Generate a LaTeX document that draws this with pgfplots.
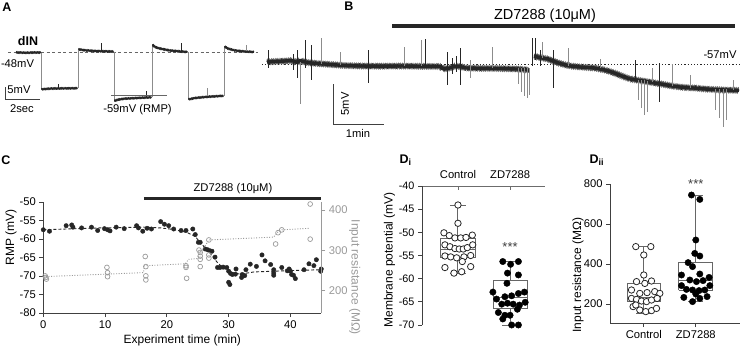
\documentclass[border=0pt]{standalone}
\usepackage{fontspec}
\setmainfont{Liberation Sans}
\usepackage{pgfplots}
\pgfplotsset{compat=1.18}
\usetikzlibrary{decorations.pathmorphing}
\newcommand{\fs}{\fontsize{11.2bp}{13bp}\selectfont}
\newcommand{\fl}{\fontsize{12bp}{14bp}\selectfont}
\newcommand{\fb}{\fontsize{12.5bp}{14bp}\selectfont\bfseries}
\definecolor{axc}{HTML}{404040}
\definecolor{trc}{HTML}{262626}
\definecolor{spg}{HTML}{8C8C8C}
\definecolor{rgray}{HTML}{9A9A9A}
\definecolor{boxc}{HTML}{666666}
\pgfplotsset{
  myax/.style={scale only axis, clip=false, font=\fs,
    tick label style={font=\fs}, label style={font=\fl},
    /pgf/number format/assume math mode=true,
    axis line style={draw=axc, line width=0.9bp},
    tick style={draw=axc, line width=0.9bp},
    major tick length=4bp, tick align=outside, unbounded coords=jump},
  trA/.style={draw=trc, line width=1.7bp, line join=round,
    preaction={draw=trc, line width=0.45bp, decorate,
      decoration={zigzag, segment length=1.4bp, amplitude=1.3bp}},
    preaction={draw=trc, line width=0.4bp, decorate,
      decoration={zigzag, segment length=2.3bp, amplitude=1.0bp}}},
  trB/.style={draw=trc, line width=3.4bp, line join=round,
    preaction={draw=trc, line width=0.6bp, decorate,
      decoration={zigzag, segment length=1.3bp, amplitude=2.7bp}},
    preaction={draw=black!60, line width=0.45bp, decorate,
      decoration={zigzag, segment length=2.1bp, amplitude=3.4bp}}},
}
\begin{document}
\begin{tikzpicture}
% ---------------- overview (panels A and B), pixel units ----------------
\begin{axis}[at={(0,0)}, anchor=north west, width=740bp, height=351bp,
  scale only axis, hide axis, clip=false, font=\fs,
  xmin=0, xmax=740, ymin=0, ymax=351, y dir=reverse, unbounded coords=jump]
% A dashed baseline
\addplot[draw=gray!80!black, line width=0.8bp, dash pattern=on 3bp off 2.5bp] coordinates {(8,52.7) (258,52.7)};
% A step transitions
\addplot[draw=spg, line width=0.6bp] coordinates {(41,52.5)(41,89.5)(41,nan)(78,88.2)(78,49.2)(78,nan)(114,51.5)(114,101.5)(114,nan)(152,97.3)(152,43.5)(152,nan)(188,52)(188,100)(188,nan)(224,95.8)(224,45.5)};
% A trace segments
\addplot[trA] coordinates {(16,52.4)(26,52.8)(34,52.5)(41,52.6)};
\addplot[trA] coordinates {(41.5,89.3)(50,88.6)(60,88.4)(70,88.3)(77.5,88.2)};
\addplot[trA] coordinates {(78.5,49.3)(85,50.3)(95,51.0)(105,51.3)(113.5,51.5)};
\addplot[trA] coordinates {(114.5,101)(118,99.6)(125,98.6)(135,98.1)(145,97.6)(151.5,97.3)};
\addplot[trA] coordinates {(152.5,44.8)(155,47)(160,48.6)(170,50.5)(180,51.4)(187.5,52)};
\addplot[trA] coordinates {(188.5,99.4)(195,98)(205,97)(215,96.3)(223.5,95.8)};
\addplot[trA] coordinates {(224.5,46.6)(228,48.6)(235,50.5)(245,51.5)(254,52)};
% A small spikes
\addplot[draw=trc, line width=0.6bp] coordinates {(101,51)(101,43)(101,nan)(181,51)(181,43)(181,nan)(146,97)(146,91)(146,nan)(58,88)(58,84)};
\addplot[draw=spg, line width=0.6bp] coordinates {(207,96)(207,87.5)(207,nan)(246,51)(246,45)};
% A annotations
\addplot[draw=gray!80!black, line width=1.5bp] coordinates {(111,95.7)(166.7,95.7)};
\addplot[draw=axc, line width=0.9bp] coordinates {(5.3,87.3)(5.3,99.5)(40,99.5)};
\node[font=\fb] at (axis cs:7,7) {A};
\node[font=\fb] at (axis cs:28,41.5) {dIN};
\node at (axis cs:17.5,63.5) {-48mV};
\node at (axis cs:19,90) {5mV};
\node at (axis cs:22,109) {2sec};
\node at (axis cs:137.5,109.5) {-59mV (RMP)};
% ---------------- B ----------------
\addplot[draw=trc, line width=0.8bp, dash pattern=on 1.2bp off 2bp] coordinates {(262,64.3)(740,64.3)};
\addplot[trB] coordinates {(267,62)(275,61.5)(285,61)(292,60.5)(297,62.5)(300,60.5)(305,62)(311,63)(318,63.5)(330,64.5)(345,65.5)(360,66)(380,66.2)(400,66)(420,66.3)(441,66.5)(443,69)(450,68)(455,66)(460,66.5)(466,68)(480,68.3)(500,68.5)(517,69)(529,70)};
\addplot[trB] coordinates {(534,56)(537,57)(542,58)(548,59)(553,61)(560,63.5)(570,66)(580,67)(595,68)(605,70)(613,72.5)(622,76)(630,79)(640,80.5)(648,81.8)(658,83.5)(667,85)(675,86.5)(685,87.5)(697,88.2)(705,89)(713,89.5)(725,90)(739,90.5)};
% B spikes, dark
\addplot[draw=trc, line width=0.8bp] coordinates {(268,50)(268,68)(268,nan)(293,54)(293,70)(293,nan)(297,50)(297,78)(297,nan)(305,40)(305,68)(305,nan)(311,45)(311,80)(311,nan)(368,50)(368,83)(368,nan)(425,39)(425,68)(425,nan)(447,52)(447,85)(447,nan)(452,58)(452,74)(452,nan)(456,56)(456,72)(456,nan)(460,48)(460,85)(460,nan)(532,38)(532,66)(532,nan)(535,38)(535,60)(535,nan)(540,50)(540,66)(540,nan)(553,50)(553,88)(553,nan)(635,60)(635,80)(635,nan)(659,63)(659,102)};
% B spikes, grey
\addplot[draw=spg, line width=0.6bp] coordinates {(300,62)(300,104)(300,nan)(321,38)(321,64)(321,nan)(340,52)(340,65)(340,nan)(404,47)(404,66)(404,nan)(421.7,40)(421.7,66)(421.7,nan)(470,60)(470,78)(470,nan)(492,47)(492,68)(492,nan)(518,68)(518,84)(518,nan)(521,68)(521,92)(521,nan)(524,68)(524,96)(524,nan)(527,68)(527,98)(527,nan)(529,68)(529,95)(529,nan)(542,42)(542,58)(542,nan)(568,48)(568,66)(568,nan)(600,59)(600,68)(600,nan)(638,80)(638,100)(638,nan)(641,80)(641,108)(641,nan)(644,80)(644,115)(644,nan)(647,81)(647,112)(647,nan)(652,68)(652,82)(652,nan)(672,64)(672,86)(672,nan)(690,75)(690,88)(690,nan)(715,89)(715,110)(715,nan)(719,89)(719,118)(719,nan)(723,89)(723,127)(723,nan)(726,89)(726,120)(726,nan)(733,80)(733,90)};
% B annotations
\addplot[draw=trc, line width=4bp] coordinates {(392,26)(735,26)};
\addplot[draw=axc, line width=0.9bp] coordinates {(333,84)(333,124)(384,124)};
\node[font=\fb] at (axis cs:349,6) {B};
\node[font=\fontsize{14.5bp}{16bp}\selectfont] at (axis cs:545,15.5) {ZD7288 (10μM)};
\node at (axis cs:720,55) {-57mV};
\node[rotate=90] at (axis cs:345,104) {5mV};
\node at (axis cs:358,133.5) {1min};
% panel labels lower row
\node[font=\fb] at (axis cs:6,160) {C};
\node[font=\fb, anchor=west] at (axis cs:396,160) {D\raisebox{-2bp}{\fontsize{9bp}{9bp}\selectfont i}};
\node[font=\fb, anchor=west] at (axis cs:586,160) {D\raisebox{-2bp}{\fontsize{9bp}{9bp}\selectfont ii}};
\end{axis}
% ---------------- C: RMP ----------------
\begin{axis}[myax, at={(43.3bp,-313bp)}, anchor=south west, width=278bp, height=111bp,
  xmin=0, xmax=45, ymin=-80, ymax=-50, axis x line*=bottom, axis y line*=left,
  xtick={0,10,20,30,40}, ytick={-80,-75,-70,-65,-60,-55,-50},
  xlabel={Experiment time (min)}]
\addplot[draw=trc, line width=0.9bp, dash pattern=on 3bp off 2bp] coordinates {(0,-57.5)(9.2,-57.0)(16.2,-56.8)(19,-57.0)(21,-57.4)(23.2,-58.2)(24.6,-59.3)(25.4,-61.0)(26.9,-63.6)(28.1,-66.2)(29.1,-67.8)(30.3,-69.0)(31.9,-69.5)(34.1,-68.9)(38.9,-68.6)(44.9,-68.3)};
\addplot[only marks, mark=*, mark size=2.2bp, mark options={fill=trc, draw=trc}] coordinates {(0,-57.5)(1.0,-57.9)(3.7,-56.4)(4.6,-56.2)(4.8,-56.8)(6.2,-57.0)(7.8,-56.8)(8.8,-57.7)(9.9,-57.2)(10.4,-57.5)(10.8,-57.8)(11.8,-56.8)(13.1,-57.2)(15.1,-56.4)(15.4,-57.0)(16.1,-57.9)(16.8,-57.1)(17.5,-57.3)(19.0,-55.3)(19.6,-56.0)(20.3,-56.4)(21.1,-57.3)(22.3,-57.7)(23.1,-57.7)(24.2,-57.3)(24.6,-58.8)(25.1,-60.9)(25.4,-60.9)(26.2,-62.7)(26.6,-62.9)(27.0,-63.2)(27.3,-63.3)(27.8,-64.9)(28.2,-67.7)(28.6,-67.7)(29.1,-67.6)(29.7,-67.7)(30.0,-68.7)(30.0,-71.7)(30.2,-72.3)(30.3,-69.3)(30.6,-69.6)(31.1,-69.5)(31.2,-68.1)(32.1,-70.4)(32.2,-69.6)(32.6,-69.9)(32.8,-68.3)(33.5,-66.8)(34.5,-67.4)(35.4,-64.3)(35.9,-65.9)(36.8,-66.9)(37.3,-68.3)(37.3,-69.2)(37.3,-69.8)(38.6,-67.7)(39.5,-68.6)(39.8,-68.1)(40.0,-68.7)(40.2,-69.6)(40.5,-69.8)(40.8,-70.7)(42.2,-68.3)(43.0,-66.7)(43.8,-67.2)(44.2,-65.6)(44.9,-68.7)(45.0,-68.1)};
\addplot[draw=trc, line width=3.3bp] coordinates {(16.3,-49.0)(45,-49.0)};
\node at (axis cs:30.7,-46.3) {ZD7288 (10μM)};
\node[rotate=90, font=\fl] at (rel axis cs:-0.116,0.68) {RMP (mV)};
\end{axis}
% ---------------- C: input resistance ----------------
\begin{axis}[myax, at={(43.3bp,-313bp)}, anchor=south west, width=278bp, height=111bp,
  xmin=0, xmax=45, ymin=145, ymax=420, axis x line=none, axis y line*=right,
  ytick={200,300,400}, y axis line style={draw=rgray}, ytick style={draw=rgray},
  yticklabel style={text=rgray}]
\addplot[draw=rgray, line width=0.9bp, dash pattern=on 1bp off 1.6bp] coordinates {(0,235)(16.2,245)(16.4,262)(23,267)(23.5,278)(24.9,280)(25.4,293)(26.8,326)(37.3,333)(37.8,344)(38.6,351)(43.2,355)};
\addplot[only marks, mark=o, mark size=2.4bp, mark options={draw=rgray, line width=0.7bp}] coordinates {(0.3,237)(0.4,233)(0.5,229)(10.3,258)(10.4,245)(10.4,235)(16.5,285)(16.6,260)(16.6,237)(16.6,227)(23.1,262)(23.1,258)(23.2,231)(25.2,301)(25.4,295)(25.4,286)(25.4,278)(25.4,260)(26.8,326)(26.8,289)(26.8,281)(37.6,316)(38.0,344)(38.6,351)(43.2,415)(43.2,328)};
\node[rotate=-90, font=\fl, text=rgray] at (rel axis cs:1.12,0.32) {Input resistance (MΩ)};
\end{axis}
% ---------------- Di ----------------
\begin{axis}[myax, at={(422bp,-325bp)}, anchor=south west, width=123bp, height=139bp,
  xmin=0.31, xmax=2.67, ymin=-70, ymax=-40, axis x line*=top, axis y line*=left,
  xtick={1,2}, xticklabels={Control,ZD7288}, xtick style={draw=none},
  ytick={-70,-65,-60,-55,-50,-45,-40}, x axis line style={draw=gray!85!black},
  yticklabel style={font=\fontsize{10.8bp}{12bp}\selectfont}]
\addplot[draw=gray!85!black, line width=0.9bp] coordinates {(1,-40)(1,-40.9)(1,nan)(2,-40)(2,-40.9)};
% boxes: whisker, quartiles, median (Control, then ZD7288)
\addplot[draw=boxc, line width=1bp] coordinates {(0.673,-55.5)(1.327,-55.5)(1.327,-51.3)(0.673,-51.3)(0.673,-55.5)(0.673,nan)(0.673,-53.6)(1.327,-53.6)(1.327,nan)(1,-51.3)(1,-44.1)(1,nan)(0.845,-44.1)(1.155,-44.1)(1.155,nan)(1,-55.5)(1,-58.8)(1,nan)(0.845,-58.8)(1.155,-58.8)};
\addplot[draw=boxc, line width=1bp] coordinates {(1.673,-66.4)(2.327,-66.4)(2.327,-60.3)(1.673,-60.3)(1.673,-66.4)(1.673,nan)(1.673,-64.1)(2.327,-64.1)(2.327,nan)(2,-60.3)(2,-56.3)(2,nan)(1.845,-56.3)(2.155,-56.3)(2.155,nan)(2,-66.4)(2,-70.0)(2,nan)(1.845,-70.0)(2.155,-70.0)};
\addplot[only marks, mark=*, mark size=3.2bp, mark options={fill=white, draw=trc, line width=0.8bp}] coordinates {(1.0,-44.1)(1.0,-48.05)(0.731,-50.1)(0.833,-50.7)(0.942,-51.2)(1.052,-51.2)(1.154,-51.1)(1.275,-50.6)(0.75,-52.7)(0.846,-53.1)(0.942,-53.5)(1.025,-53.6)(1.102,-53.6)(1.179,-53.3)(1.283,-52.7)(0.75,-55.1)(0.86,-55.3)(0.975,-55.5)(1.115,-55.3)(1.244,-55.0)(0.75,-57.6)(1.083,-56.3)(1.244,-57.4)(0.923,-58.8)(1.071,-58.5)};
\addplot[only marks, mark=*, mark size=3.2bp, mark options={fill=black, draw=black}] coordinates {(1.86,-56.3)(2.16,-56.3)(2.01,-56.9)(1.95,-58.8)(2.16,-59.2)(1.94,-61.0)(1.67,-62.9)(2.275,-62.9)(1.74,-64.4)(1.90,-63.9)(2.03,-63.7)(2.16,-63.2)(1.84,-65.5)(1.95,-65.3)(2.06,-65.5)(2.18,-65.7)(2.29,-65.1)(1.775,-67.3)(1.90,-67.9)(2.14,-66.6)(1.86,-68.7)(2.0,-67.9)(2.03,-70.0)(2.16,-70.0)};
\node[font=\fontsize{13bp}{13bp}\selectfont, text=black!75] at (axis cs:2,-53.2) {***};
\node[rotate=90, font=\fl] at (rel axis cs:-0.265,0.47) {Membrane potential (mV)};
\end{axis}
% ---------------- Dii ----------------
\begin{axis}[myax, at={(610bp,-323bp)}, anchor=south west, width=130bp, height=139bp,
  xmin=0.35, xmax=2.85, ymin=105, ymax=800, axis x line*=bottom, axis y line*=left,
  xtick={1,2}, xticklabels={Control,ZD7288}, ytick={200,400,600,800}]
\addplot[draw=boxc, line width=1bp] coordinates {(0.68,212)(1.32,212)(1.32,303)(0.68,303)(0.68,212)(0.68,nan)(0.68,233)(1.32,233)(1.32,nan)(1,303)(1,487)(1,nan)(0.855,487)(1.145,487)(1.145,nan)(1,212)(1,153)(1,nan)(0.855,153)(1.145,153)};
\addplot[draw=boxc, line width=1bp] coordinates {(1.67,270)(2.33,270)(2.33,407)(1.67,407)(1.67,270)(1.67,nan)(1.67,320)(2.33,320)(2.33,nan)(2,407)(2,745)(2,nan)(1.855,745)(2.145,745)(2.145,nan)(2,270)(2,212)(2,nan)(1.855,212)(2.145,212)};
\addplot[only marks, mark=*, mark size=3.2bp, mark options={fill=white, draw=trc, line width=0.8bp}] coordinates {(0.846,487)(1.135,487)(1.0,445)(1.0,345)(0.86,312)(1.02,303)(1.148,315)(0.763,270)(0.923,253)(1.063,257)(1.21,262)(1.308,253)(0.763,228)(0.86,223)(0.956,215)(1.052,212)(1.148,220)(1.256,228)(0.794,187)(0.923,170)(1.038,162)(1.148,167)(1.244,178)(0.846,195)};
\addplot[only marks, mark=*, mark size=3.2bp, mark options={fill=black, draw=black}] coordinates {(1.917,745)(2.077,723)(2.0,520)(1.98,453)(2.077,440)(1.852,407)(1.937,387)(1.725,345)(2.077,350)(2.256,333)(1.885,320)(2.013,312)(2.14,317)(1.725,292)(2.27,292)(1.82,273)(1.937,270)(2.063,267)(2.173,270)(1.77,233)(1.937,212)(2.077,228)(2.217,237)(2.0,250)};
\node[font=\fontsize{13bp}{13bp}\selectfont, text=black!75] at (axis cs:2,800) {***};
\node[rotate=90, font=\fl] at (rel axis cs:-0.246,0.345) {Input resistance (MΩ)};
\end{axis}
\pgfresetboundingbox
\path[use as bounding box] (0,0) rectangle (740bp,-351bp);
\end{tikzpicture}
\end{document}
